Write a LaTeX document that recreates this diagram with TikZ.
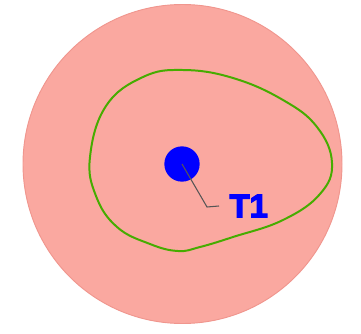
\documentclass[tikz,border=0pt]{standalone}
\usepackage{fontspec}
\setmainfont{Liberation Sans}
\newfontfamily\heavyfont[FakeBold=4]{Liberation Sans Bold}
\usetikzlibrary{positioning}
\definecolor{zonepink}{RGB}{250,168,160}
\definecolor{zoneedge}{RGB}{240,150,142}
\definecolor{curvegreen}{RGB}{70,172,0}
\definecolor{leadgray}{RGB}{85,85,85}
\begin{document}
\begin{tikzpicture}[
      x=0.03cm, y=0.03cm,
      zone/.style={draw=zoneedge, fill=zonepink, line width=0.8pt},
      contour/.style={draw=curvegreen, line width=1.7pt},
      target/.style={circle, fill=blue, inner sep=0pt, minimum size=1.06cm},
      tlabel/.style={anchor=west, text=blue, font=\fontsize{28}{30}\selectfont\heavyfont, inner xsep=0.31cm, inner ysep=0pt},
      lead/.style={draw=leadgray, line width=0.9pt}
  ]
      \useasboundingbox (0,0) rectangle (361,-334);

      % Outer zone
      \draw[zone] (182.5,-164) circle (159.5);

      % Green contour
      \draw[contour] plot[smooth cycle, tension=0.7] coordinates {
          (90,-157) (106,-106) (143,-77) (183,-70) (233,-78) (283,-100)
          (317,-127) (332,-163) (320,-194) (283,-220) (233,-237) (200,-247)
          (178,-251) (150,-244) (117,-227) (96,-196)};

      % Target and its label
      \node[target] (t1) at (182,-164) {};
      \node[tlabel] (t1lab) at (219,-206) {T1};
      \coordinate (knee) at (207,-207);
      \draw[lead] (t1.center) -- (knee) -- (t1lab.west);
  \end{tikzpicture}
\end{document}
